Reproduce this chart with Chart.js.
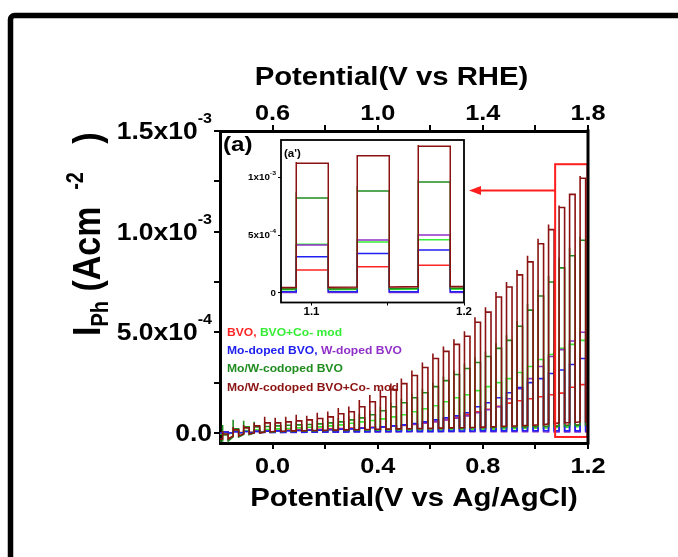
<!DOCTYPE html>
<html><head><meta charset="utf-8">
<script src="https://cdn.jsdelivr.net/npm/chart.js@4.4.1/dist/chart.umd.min.js"></script>
<style>
html,body{margin:0;padding:0;background:#fff;}
#wrap{position:relative;width:678px;height:557px;overflow:hidden;background:#fff;}
#main{position:absolute;left:0;top:0;}
#inset{position:absolute;left:236px;top:134px;}
</style></head><body>
<div id="wrap"><canvas id="main" width="678" height="557"></canvas><canvas id="inset" width="240" height="190"></canvas></div>
<script>
// ---------- DATA (current in units of 10^-3 A cm^-2, potential in V vs Ag/AgCl) ----------
const scanStartV = -0.2, scanEndV = 1.2;
const lightOnV  = [-0.19,-0.15,-0.11,-0.07,-0.03,0.01,0.05,0.09,0.13,0.17,0.21,0.25,0.29,0.33,0.37,0.41,0.45,0.49,0.53,0.57,0.61,0.65,0.69,0.73,0.77,0.81,0.85,0.89,0.93,0.97,1.01,1.05,1.09,1.13,1.17];
const lightOffV = [-0.169,-0.129,-0.089,-0.049,-0.009,0.031,0.071,0.111,0.151,0.191,0.231,0.271,0.311,0.351,0.391,0.431,0.471,0.511,0.551,0.591,0.631,0.671,0.711,0.751,0.791,0.831,0.871,0.911,0.951,0.991,1.031,1.071,1.111,1.151,1.191];

const bvoLight = [0.005,0.008,0.010,0.011,0.012,0.013,0.014,0.015,0.016,0.018,0.020,0.022,0.024,0.026,0.028,0.030,0.033,0.037,0.042,0.048,0.056,0.066,0.078,0.092,0.105,0.118,0.132,0.148,0.160,0.170,0.180,0.190,0.198,0.227,0.240];
const bvoDark  = [0.000,0.002,0.003,0.004,0.005,0.005,0.006,0.006,0.007,0.007,0.008,0.008,0.009,0.009,0.010,0.010,0.011,0.012,0.013,0.014,0.015,0.016,0.017,0.018,0.019,0.020,0.022,0.024,0.026,0.028,0.030,0.033,0.038,0.040,0.042];

const bvoCoLight = [0.000,0.010,0.012,0.015,0.017,0.020,0.022,0.025,0.028,0.030,0.035,0.040,0.048,0.055,0.062,0.070,0.080,0.090,0.105,0.120,0.135,0.155,0.175,0.190,0.210,0.230,0.250,0.270,0.300,0.330,0.365,0.390,0.420,0.440,0.460];
const bvoCoDark  = [-0.005,0.000,0.002,0.003,0.004,0.005,0.006,0.006,0.007,0.007,0.008,0.008,0.009,0.009,0.010,0.010,0.011,0.012,0.012,0.013,0.014,0.015,0.016,0.017,0.018,0.019,0.020,0.021,0.022,0.023,0.024,0.026,0.028,0.030,0.032];

const moLight = [0.005,0.006,0.007,0.008,0.009,0.010,0.011,0.012,0.013,0.014,0.016,0.018,0.020,0.023,0.026,0.030,0.035,0.040,0.047,0.055,0.065,0.075,0.085,0.100,0.130,0.150,0.175,0.200,0.225,0.250,0.270,0.295,0.313,0.340,0.370];
const moDark  = [0.000,0.001,0.002,0.002,0.003,0.003,0.004,0.004,0.004,0.005,0.005,0.005,0.006,0.006,0.006,0.007,0.007,0.007,0.008,0.008,0.008,0.009,0.009,0.009,0.010,0.010,0.010,0.010,0.011,0.011,0.011,0.011,0.010,0.010,0.010];

const wLight = [0.005,0.006,0.007,0.008,0.009,0.010,0.011,0.012,0.013,0.015,0.017,0.019,0.021,0.024,0.027,0.030,0.034,0.038,0.043,0.049,0.056,0.064,0.073,0.085,0.100,0.115,0.130,0.170,0.220,0.270,0.330,0.380,0.414,0.457,0.500];
const wDark  = [0.000,0.001,0.001,0.002,0.002,0.003,0.003,0.003,0.004,0.004,0.004,0.004,0.005,0.005,0.005,0.005,0.005,0.006,0.006,0.006,0.006,0.006,0.006,0.006,0.006,0.006,0.006,0.006,0.006,0.006,0.006,0.005,0.005,0.005,0.005];

const moWLight = [-0.010,0.020,0.030,0.030,0.032,0.035,0.038,0.040,0.042,0.045,0.050,0.055,0.065,0.075,0.090,0.110,0.130,0.150,0.175,0.200,0.230,0.260,0.290,0.320,0.350,0.380,0.420,0.460,0.530,0.610,0.680,0.750,0.820,0.880,0.957];
const moWSpike = [0.040,0.065,0.060,0.055,0.050,0.050,0.052,0.055,0.058,0.062,0.068,0.075,0.085,0.095,0.110,0.130,0.150,0.170,0.195,0.220,0.250,0.280,0.310,0.345,0.375,0.405,0.445,0.485,0.555,0.640,0.710,0.780,0.870,0.920,0.975];
const moWDark  = [-0.040,-0.020,-0.008,0.000,0.004,0.006,0.008,0.009,0.010,0.011,0.012,0.013,0.014,0.015,0.016,0.017,0.018,0.019,0.020,0.021,0.022,0.023,0.024,0.025,0.026,0.027,0.028,0.029,0.030,0.031,0.032,0.033,0.035,0.037,0.040];

const moWCoLight = [-0.005,0.015,0.025,0.035,0.050,0.050,0.055,0.060,0.065,0.072,0.080,0.095,0.105,0.130,0.155,0.180,0.215,0.245,0.285,0.325,0.370,0.405,0.440,0.480,0.550,0.600,0.675,0.725,0.785,0.850,0.940,1.010,1.120,1.185,1.265];
const moWCoSpike = [0.010,0.030,0.040,0.050,0.081,0.075,0.081,0.090,0.085,0.100,0.106,0.124,0.131,0.164,0.189,0.215,0.245,0.270,0.310,0.350,0.395,0.430,0.465,0.505,0.575,0.625,0.700,0.750,0.810,0.880,0.965,1.035,1.130,1.190,1.276];
const moWCoDark  = [-0.030,-0.015,-0.005,0.000,0.005,0.008,0.010,0.010,0.012,0.012,0.014,0.015,0.016,0.017,0.018,0.019,0.020,0.021,0.022,0.023,0.024,0.025,0.026,0.027,0.028,0.030,0.032,0.034,0.036,0.038,0.040,0.045,0.050,0.052,0.055];

// axis ticks
const xBottomTicks = [0.0,0.2,0.4,0.6,0.8,1.0,1.2];
const xBottomLabels = ['0.0','','0.4','','0.8','','1.2'];
const xTopTicks = [0.6,0.8,1.0,1.2,1.4,1.6,1.8];
const xTopLabels = ['0.6','','1.0','','1.4','','1.8'];
const yTicks = [0,0.25,0.5,0.75,1.0,1.25,1.5];
const yTickMant = ['0.0','','5.0x10','','1.0x10','','1.5x10'];
const yTickExp  = ['','','-4','','-3','','-3'];
const insetXTicks = [1.1,1.15,1.2];
const insetXLabels = ['1.1','','1.2'];
const insetYTicks = [0,0.5,1.0];
const insetYMant = ['0','5x10','1x10'];
const insetYExp  = ['','-4','-3'];
const insetRange = {xmin:1.08, xmax:1.2, ymin:-0.082, ymax:1.32};
const zoomBox = {x0:1.075, x1:1.198, y0:-0.02, y1:1.335};

// ---------- build ----------
const COL = {bvo:'#ff2424', bvoCo:'#36ee36', mo:'#2020f0', w:'#9030c8', moW:'#1f8c1f', moWCo:'#8b1212', ann:'#ff1e1e'};
function squareWave(dark, light, spike){
  const pts = [{x:scanStartV, y:dark[0]}];
  for (let k=0;k<lightOnV.length;k++){
    pts.push({x:lightOnV[k], y:dark[k]});
    if (spike) pts.push({x:lightOnV[k], y:spike[k]});
    pts.push({x:lightOnV[k], y:light[k]});
    pts.push({x:lightOffV[k], y:light[k]});
    pts.push({x:lightOffV[k], y:dark[k]});
  }
  pts.push({x:scanEndV, y:dark[dark.length-1]});
  return pts;
}
const seriesDefs = [
  {label:'BVO', color:COL.bvo, dark:bvoDark, light:bvoLight, spike:null, order:5},
  {label:'BVO+Co- mod', color:COL.bvoCo, dark:bvoCoDark, light:bvoCoLight, spike:null, order:4},
  {label:'Mo-doped BVO', color:COL.mo, dark:moDark, light:moLight, spike:null, order:2},
  {label:'W-doped BVO', color:COL.w, dark:wDark, light:wLight, spike:null, order:3},
  {label:'Mo/W-codoped BVO', color:COL.moW, dark:moWDark, light:moWLight, spike:moWSpike, order:1},
  {label:'Mo/W-codoped BVO+Co- mod', color:COL.moWCo, dark:moWCoDark, light:moWCoLight, spike:moWCoSpike, order:0}
];
function makeDatasets(bw){
  return seriesDefs.map(s=>({label:s.label, data:squareWave(s.dark,s.light,s.spike), borderColor:s.color,
    borderWidth:bw, pointRadius:0, tension:0, fill:false, order:s.order}));
}

const FONT = '"Liberation Sans", Arial, Helvetica, sans-serif';
const SX = 1.15;
function txt(ctx, s, x, y, size, color, align){
  ctx.save();
  ctx.font = 'bold '+size+'px '+FONT;
  ctx.fillStyle = color; ctx.textBaseline='alphabetic'; ctx.textAlign='left';
  const w = ctx.measureText(s).width*SX;
  const x0 = align==='center' ? x-w/2 : align==='right' ? x-w : x;
  ctx.translate(x0,y); ctx.scale(SX,1); ctx.fillText(s,0,0);
  ctx.restore();
  return w;
}
function tw(ctx, s, size){ ctx.save(); ctx.font='bold '+size+'px '+FONT; const w=ctx.measureText(s).width*SX; ctx.restore(); return w; }

function axisCommon(extra){
  return Object.assign({
    type:'linear',
    ticks:{display:false},
    grid:{display:true, drawOnChartArea:false, drawTicks:true, tickLength:6, color:'#000', lineWidth:2},
    border:{display:true, color:'#000', width:3}
  }, extra);
}

const mainDeco = {
  id:'mainDeco',
  afterDatasetsDraw(chart){
    const ctx = chart.ctx, xs = chart.scales.x, ys = chart.scales.y;
    ctx.save();
    ctx.strokeStyle = COL.ann; ctx.fillStyle = COL.ann; ctx.lineWidth = 2;
    const bx0 = xs.getPixelForValue(zoomBox.x0), bx1 = xs.getPixelForValue(zoomBox.x1);
    const by0 = ys.getPixelForValue(zoomBox.y1), by1 = ys.getPixelForValue(zoomBox.y0);
    ctx.strokeRect(bx0, by0, bx1-bx0, by1-by0);
    const ay = ys.getPixelForValue(1.205);
    const tip = 469;
    ctx.beginPath(); ctx.moveTo(bx0, ay); ctx.lineTo(tip+9, ay); ctx.stroke();
    ctx.beginPath(); ctx.moveTo(tip, ay); ctx.lineTo(tip+12, ay-4.5); ctx.lineTo(tip+12, ay+4.5); ctx.closePath(); ctx.fill();
    ctx.restore();
    const lx = 227, ls = 10.5;
    let x = lx;
    x += txt(ctx,'BVO, ',x,336,ls,COL.bvo); txt(ctx,'BVO+Co- mod',x,336,ls,COL.bvoCo);
    x = lx; x += txt(ctx,'Mo-doped BVO, ',x,354,ls,COL.mo); txt(ctx,'W-doped BVO',x,354,ls,COL.w);
    txt(ctx,'Mo/W-codoped BVO',lx,372,ls,COL.moW);
    txt(ctx,'Mo/W-codoped BVO+Co- mod',lx,391,ls,COL.moWCo);
  },
  afterDraw(chart){
    const ctx = chart.ctx, ca = chart.chartArea, xs = chart.scales.x, x2 = chart.scales.x2, ys = chart.scales.y;
    ctx.save();
    ctx.strokeStyle='#000'; ctx.lineWidth=3;
    ctx.beginPath(); ctx.moveTo(ca.right, ca.top-1.5); ctx.lineTo(ca.right, ca.bottom+1.5); ctx.stroke();
    ctx.lineWidth=5.5;
    ctx.beginPath(); ctx.roundRect(10.5,15.5,1000,1000,4); ctx.stroke();
    ctx.restore();
    xBottomTicks.forEach((v,i)=>{ if(xBottomLabels[i]) txt(ctx,xBottomLabels[i],xs.getPixelForValue(v),473,22,'#000','center'); });
    xTopTicks.forEach((v,i)=>{ if(xTopLabels[i]) txt(ctx,xTopLabels[i],x2.getPixelForValue(v),120,22,'#000','center'); });
    yTicks.forEach((v,i)=>{
      if(!yTickMant[i]) return;
      const py = ys.getPixelForValue(v);
      const wm = tw(ctx,yTickMant[i],23), we = yTickExp[i]?tw(ctx,yTickExp[i],14):0;
      const right = 212;
      txt(ctx,yTickMant[i],right-we-wm,py+8,23,'#000','left');
      if (yTickExp[i]) txt(ctx,yTickExp[i],right-we,py-8,14,'#000','left');
    });
    txt(ctx,'Potential(V vs RHE)',391.5,85,25.5,'#000','center');
    txt(ctx,'Potential(V vs Ag/AgCl)',414,506,25.5,'#000','center');
    // y title rotated
    ctx.save();
    ctx.translate(100,336); ctx.rotate(-Math.PI/2);
    ctx.fillStyle='#000';
    const parts = [['I',34,0],['Ph',20,8],[' (Acm',34,0],['   -2',20,-17],['   )',34,0]];
    let cx = 0;
    parts.forEach(p=>{
      ctx.font='bold '+p[1]+'px '+FONT;
      ctx.save(); ctx.scale(1,SX); ctx.fillText(p[0],cx,p[2]/SX); ctx.restore();
      cx += ctx.measureText(p[0]).width;
    });
    ctx.restore();
    txt(ctx,'(a)',223,151,21,'#000','left');
  }
};

new Chart(document.getElementById('main'), {
  type:'line',
  data:{datasets:makeDatasets(1.6)},
  options:{
    responsive:false, animation:false, events:[],
    layout:{padding:{left:0,right:90,top:0,bottom:0}},
    plugins:{legend:{display:false}, tooltip:{enabled:false}},
    scales:{
      x: axisCommon({position:'bottom', min:scanStartV, max:scanEndV,
          afterBuildTicks:s=>{s.ticks = xBottomTicks.map(v=>({value:v}));},
          afterFit:s=>{s.height = 114;}}),
      x2: axisCommon({position:'top', min:scanStartV+0.6, max:scanEndV+0.6,
          afterBuildTicks:s=>{s.ticks = xTopTicks.map(v=>({value:v}));},
          afterFit:s=>{s.height = 131;}}),
      y: axisCommon({position:'left', min:-0.05, max:1.5,
          afterBuildTicks:s=>{s.ticks = yTicks.map(v=>({value:v}));},
          afterFit:s=>{s.width = 220;}})
    }
  },
  plugins:[mainDeco]
});

// ---------- inset ----------
const insetDeco = {
  id:'insetDeco',
  beforeDatasetsDraw(chart){
    const ctx=chart.ctx, ca=chart.chartArea;
    ctx.save(); ctx.fillStyle='#fff'; ctx.fillRect(ca.left,ca.top,ca.right-ca.left,ca.bottom-ca.top); ctx.restore();
  },
  afterDraw(chart){
    const ctx=chart.ctx, ca=chart.chartArea, xs=chart.scales.x, ys=chart.scales.y;
    ctx.save(); ctx.strokeStyle='#000'; ctx.lineWidth=1.8;
    ctx.strokeRect(ca.left,ca.top,ca.right-ca.left,ca.bottom-ca.top); ctx.restore();
    txt(ctx,"(a')",ca.left+3,ca.top+17,10,'#000','left');
    insetXTicks.forEach((v,i)=>{ if(insetXLabels[i]) txt(ctx,insetXLabels[i],xs.getPixelForValue(v),181,10,'#000','center'); });
    insetYTicks.forEach((v,i)=>{
      const py=ys.getPixelForValue(v);
      const wm=tw(ctx,insetYMant[i],8.5), we=insetYExp[i]?tw(ctx,insetYExp[i],6):0;
      const right=ca.left-5;
      txt(ctx,insetYMant[i],right-we-wm,py+3,8.5,'#000','left');
      if(insetYExp[i]) txt(ctx,insetYExp[i],right-we,py-2,6,'#000','left');
    });
  }
};
new Chart(document.getElementById('inset'), {
  type:'line',
  data:{datasets:makeDatasets(1.5)},
  options:{
    responsive:false, animation:false, events:[],
    layout:{padding:{left:0,right:12,top:6,bottom:0}},
    plugins:{legend:{display:false}, tooltip:{enabled:false}},
    scales:{
      x:{type:'linear', position:'bottom', min:insetRange.xmin, max:insetRange.xmax, ticks:{display:false},
         grid:{display:true, drawOnChartArea:false, tickLength:3, color:'#000', lineWidth:1},
         border:{display:false},
         afterBuildTicks:s=>{s.ticks=insetXTicks.map(v=>({value:v}));}, afterFit:s=>{s.height=21.5;}},
      y:{type:'linear', position:'left', min:insetRange.ymin, max:insetRange.ymax, ticks:{display:false},
         grid:{display:true, drawOnChartArea:false, tickLength:3, color:'#000', lineWidth:1},
         border:{display:false},
         afterBuildTicks:s=>{s.ticks=insetYTicks.map(v=>({value:v}));}, afterFit:s=>{s.width=45;}}
    }
  },
  plugins:[insetDeco]
});
</script></body></html>
